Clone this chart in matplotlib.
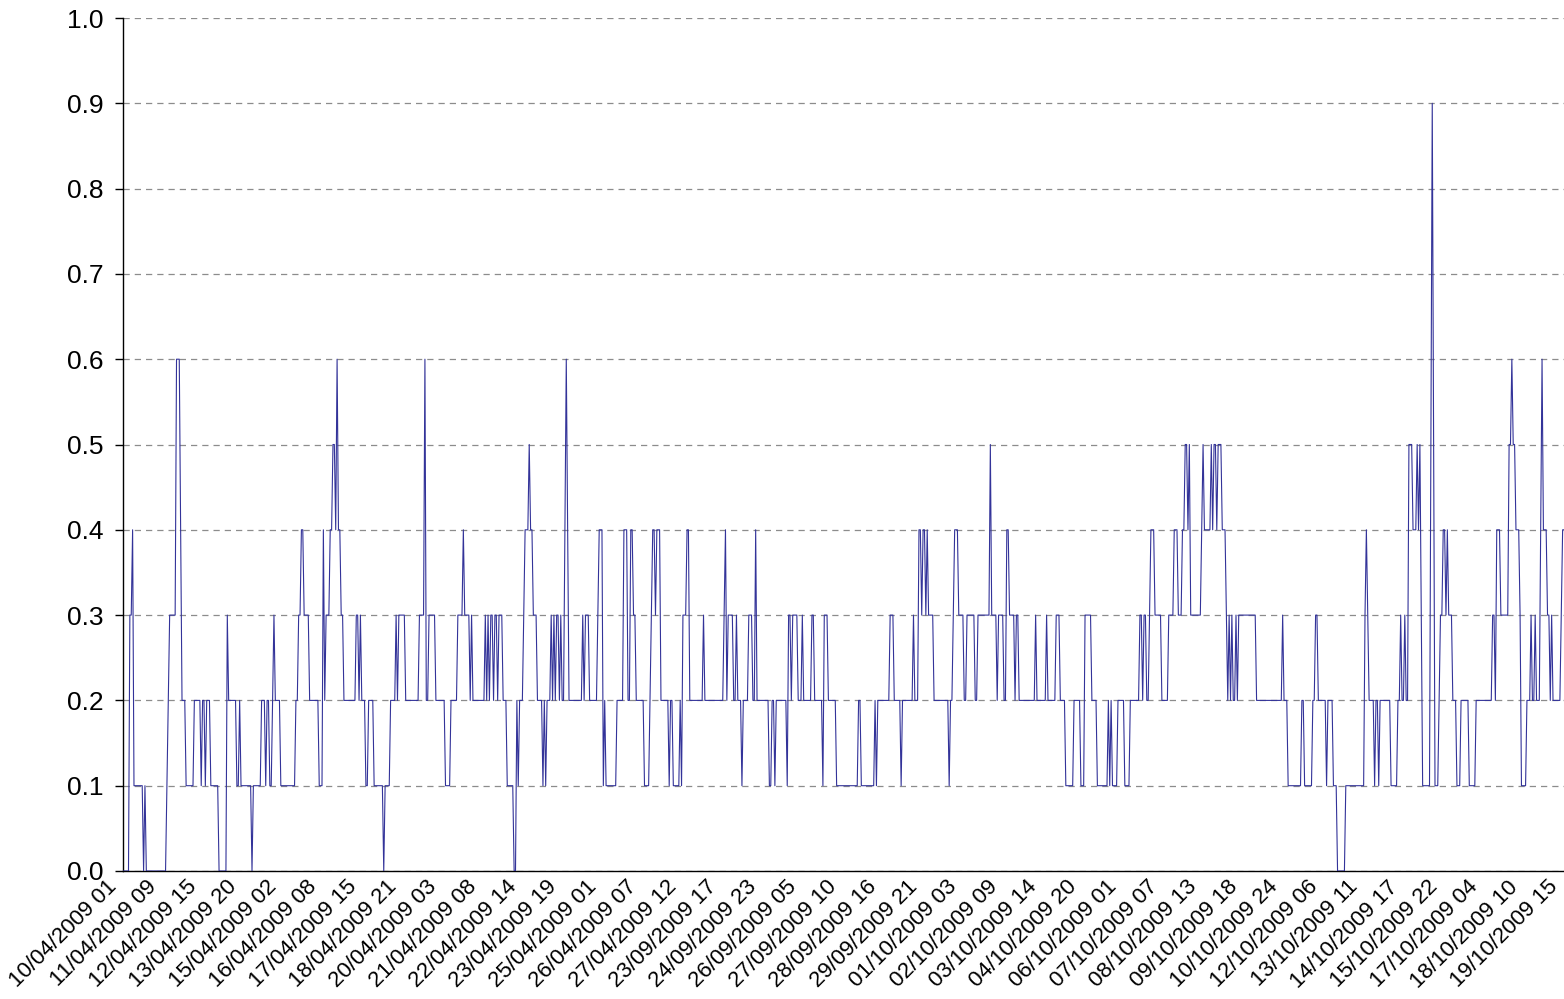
import numpy as np
import matplotlib
matplotlib.use("Agg")
import matplotlib.pyplot as plt
import matplotlib.transforms as mtransforms

# Run-length encoded series: levels (value) and how many consecutive hourly points hold it
levels = [
    # segment 1
    0.0, 0.3, 0.4, 0.1, 0.0, 0.1, 0.0, 0.1, 0.2, 0.3, 0.6, 0.4, 0.2, 0.1, 0.2, 0.1, 0.2, 0.1, 0.2, 0.1, 0.0, 0.3, 0.2, 0.1, 0.2,
    # segment 2
    0.1, 0.0, 0.1, 0.2, 0.1, 0.2, 0.1, 0.2, 0.3, 0.2, 0.1, 0.2, 0.3, 0.4, 0.3, 0.2, 0.1, 0.4, 0.2, 0.3, 0.4, 0.5, 0.4, 0.6, 0.4, 0.3, 0.2, 0.3, 0.2, 0.3,
    # segment 3
    0.2, 0.1, 0.2, 0.1, 0.0, 0.1, 0.2, 0.3, 0.2, 0.3, 0.2, 0.3, 0.6, 0.2, 0.3, 0.2, 0.1, 0.2, 0.3, 0.4, 0.3, 0.2, 0.3, 0.2,
    # segment 4
    0.2, 0.3, 0.2, 0.3, 0.2, 0.3, 0.2, 0.3, 0.2, 0.3, 0.2, 0.1, 0.0, 0.2, 0.1, 0.2, 0.3, 0.4, 0.5, 0.4, 0.3, 0.2, 0.1, 0.2, 0.1, 0.2,
    0.3, 0.2, 0.3, 0.2, 0.3, 0.2, 0.3, 0.2, 0.4, 0.6, 0.4, 0.2, 0.3, 0.2, 0.3, 0.2, 0.3, 0.4, 0.1,
    # segment 5
    0.2, 0.1, 0.2, 0.4, 0.2, 0.4, 0.3, 0.2, 0.1, 0.2, 0.3, 0.4, 0.3, 0.4, 0.2, 0.1, 0.2, 0.1, 0.2, 0.1, 0.3, 0.4, 0.2, 0.3, 0.2, 0.3,
    # segment 6
    0.4, 0.2, 0.3, 0.2, 0.3, 0.2, 0.1, 0.2, 0.3, 0.2, 0.4, 0.2, 0.1, 0.2, 0.1, 0.2, 0.1, 0.3, 0.2, 0.3, 0.2, 0.3, 0.2, 0.3, 0.2, 0.1, 0.3, 0.2, 0.1,
    # segment 7
    0.1, 0.2, 0.1, 0.2, 0.1, 0.2, 0.3, 0.2, 0.1, 0.2, 0.3, 0.2, 0.4, 0.3, 0.4, 0.3, 0.4, 0.3, 0.2, 0.1, 0.2, 0.3, 0.4, 0.3, 0.2, 0.3,
    # segment 8
    0.3, 0.2, 0.3, 0.5, 0.3, 0.2, 0.3, 0.2, 0.4, 0.3, 0.2, 0.3, 0.2, 0.3, 0.2, 0.3, 0.2, 0.3, 0.2, 0.1, 0.2, 0.1, 0.3,
    # segment 9
    0.3, 0.2, 0.1, 0.2, 0.1, 0.2, 0.1, 0.2, 0.1, 0.2, 0.3, 0.2, 0.3, 0.2, 0.3, 0.4, 0.3, 0.2, 0.3, 0.4, 0.3, 0.4, 0.5, 0.4, 0.5, 0.3, 0.4, 0.5, 0.4,
    # segment 10
    0.4, 0.5, 0.4, 0.5, 0.4, 0.5, 0.4, 0.3, 0.2, 0.3, 0.2, 0.3, 0.2, 0.3, 0.2, 0.3, 0.2, 0.3, 0.2, 0.1, 0.2, 0.1, 0.2, 0.3, 0.2, 0.1, 0.2,
    # segment 11
    0.2, 0.1, 0.0, 0.1, 0.3, 0.4, 0.3, 0.2, 0.1, 0.2, 0.1, 0.2, 0.1, 0.2, 0.3, 0.2, 0.3, 0.2, 0.5, 0.4, 0.5, 0.4, 0.5, 0.3, 0.1,
    0.5, 0.9, 0.5, 0.1, 0.2, 0.3, 0.4, 0.3, 0.4, 0.3,
    # segment 12
    0.3, 0.2, 0.1, 0.2, 0.1, 0.2, 0.3, 0.2, 0.4, 0.3, 0.5, 0.6, 0.5, 0.4, 0.3, 0.1, 0.2, 0.3, 0.2, 0.3, 0.2, 0.4, 0.6, 0.4, 0.3,
    0.2, 0.3, 0.2, 0.3, 0.4,
]
counts = [
    5, 2, 1, 7, 1, 1, 15, 1, 1, 5, 3, 1, 3, 6, 5, 1, 2, 1, 3, 6, 6, 1, 6, 2, 1,
    8, 1, 6, 3, 1, 2, 2, 1, 1, 4, 11, 2, 2, 2, 4, 7, 3, 1, 1, 3, 2, 2, 1, 1, 2, 2, 9, 2, 1, 1,
    3, 2, 4, 7, 1, 4, 4, 1, 1, 5, 10, 4, 1, 2, 5, 7, 4, 5, 4, 1, 4, 1, 1, 8,
    1, 1, 1, 1, 1, 2, 1, 2, 1, 3, 3, 5, 2, 1, 1, 3, 1, 3, 1, 2, 3, 4, 1, 1, 1, 3,
    1, 1, 1, 1, 2, 1, 1, 2, 1, 1, 1, 10, 1, 1, 3, 6, 1, 3, 1,
    1, 8, 5, 3, 2, 2, 2, 6, 4, 1, 1, 2, 1, 3, 6, 1, 2, 5, 1, 1, 3, 2, 10, 1, 14, 1,
    1, 1, 4, 2, 1, 3, 1, 4, 3, 2, 1, 9, 2, 2, 1, 8, 1, 2, 1, 4, 3, 1, 6, 2, 6, 1, 3, 6, 8,
    8, 2, 10, 1, 1, 9, 3, 5, 1, 8, 1, 3, 2, 1, 2, 1, 1, 4, 11, 1, 2, 1, 3, 4, 2, 1,
    5, 2, 9, 1, 4, 1, 4, 2, 2, 4, 1, 2, 12, 1, 7, 1, 6, 3, 4, 6, 5, 3, 3,
    2, 4, 8, 1, 1, 1, 4, 5, 4, 7, 2, 1, 2, 2, 1, 3, 5, 5, 4, 3, 3, 2, 2, 1, 1, 8, 1, 1, 4,
    1, 1, 1, 2, 1, 3, 3, 1, 1, 1, 1, 1, 2, 1, 1, 13, 19, 1, 3, 10, 2, 6, 2, 2, 6, 1, 2,
    2, 3, 6, 14, 1, 1, 1, 4, 1, 2, 1, 8, 5, 2, 1, 2, 1, 2, 3, 3, 1, 1, 1, 1, 6,
    1, 1, 1, 3, 1, 2, 2, 1, 1, 2,
    1, 3, 3, 6, 5, 12, 2, 1, 3, 6, 2, 1, 2, 3, 1, 4, 3, 1, 2, 1, 3, 1, 1, 3, 2,
    1, 1, 6, 1, 2,
]

tick_labels = [
    "10/04/2009 01", "11/04/2009 09", "12/04/2009 15", "13/04/2009 20", "15/04/2009 02",
    "16/04/2009 08", "17/04/2009 15", "18/04/2009 21", "20/04/2009 03", "21/04/2009 08",
    "22/04/2009 14", "23/04/2009 19", "25/04/2009 01", "26/04/2009 07", "27/04/2009 12",
    "23/09/2009 17", "24/09/2009 23", "26/09/2009 05", "27/09/2009 10", "28/09/2009 16",
    "29/09/2009 21", "01/10/2009 03", "02/10/2009 09", "03/10/2009 14", "04/10/2009 20",
    "06/10/2009 01", "07/10/2009 07", "08/10/2009 13", "09/10/2009 18", "10/10/2009 24",
    "12/10/2009 06", "13/10/2009 11", "14/10/2009 17", "15/10/2009 22", "17/10/2009 04",
    "18/10/2009 10", "19/10/2009 15",
]
y_ticks = [0.0, 0.1, 0.2, 0.3, 0.4, 0.5, 0.6, 0.7, 0.8, 0.9, 1.0]

values = np.repeat(np.array(levels), np.array(counts))
x = np.arange(len(values))

plt.rcParams['font.family'] = ['Liberation Sans', 'DejaVu Sans']

fig = plt.figure(figsize=(15.64, 9.99), dpi=100)
ax = fig.add_axes([123 / 1564, 1 - 871 / 999, 1 - 123 / 1564, (871 - 18) / 999])

ax.plot(x, values, color='#333399', lw=0.8, zorder=3)

ax.set_xlim(0, len(values) - 1)
ax.set_ylim(0, 1.0)
ax.set_yticks(y_ticks)
ax.set_yticklabels([f"{v:.1f}" for v in y_ticks], fontsize=19)
ax.yaxis.grid(True, linestyle=(0, (5, 4)), color='#8c8c8c', lw=0.9)
ax.set_axisbelow(True)

for s in ['top', 'right']:
    ax.spines[s].set_visible(False)
ax.spines['left'].set_color('black')
ax.spines['bottom'].set_color('black')
ax.spines['left'].set_linewidth(1.0)
ax.spines['bottom'].set_linewidth(1.0)
ax.tick_params(axis='y', length=6, width=1, direction='out', pad=8)
ax.tick_params(axis='x', length=0, pad=4)

xt = np.linspace(0, len(values) - 1, len(tick_labels))
ax.set_xticks(xt)
ax.set_xticklabels(tick_labels, rotation=45, ha='right', va='top',
                   rotation_mode='anchor', fontsize=16)
shift = mtransforms.ScaledTranslation(-17 / 100, 0, fig.dpi_scale_trans)
for lab in ax.xaxis.get_majorticklabels():
    lab.set_transform(lab.get_transform() + shift)

fig.savefig("out.png", dpi=100)
